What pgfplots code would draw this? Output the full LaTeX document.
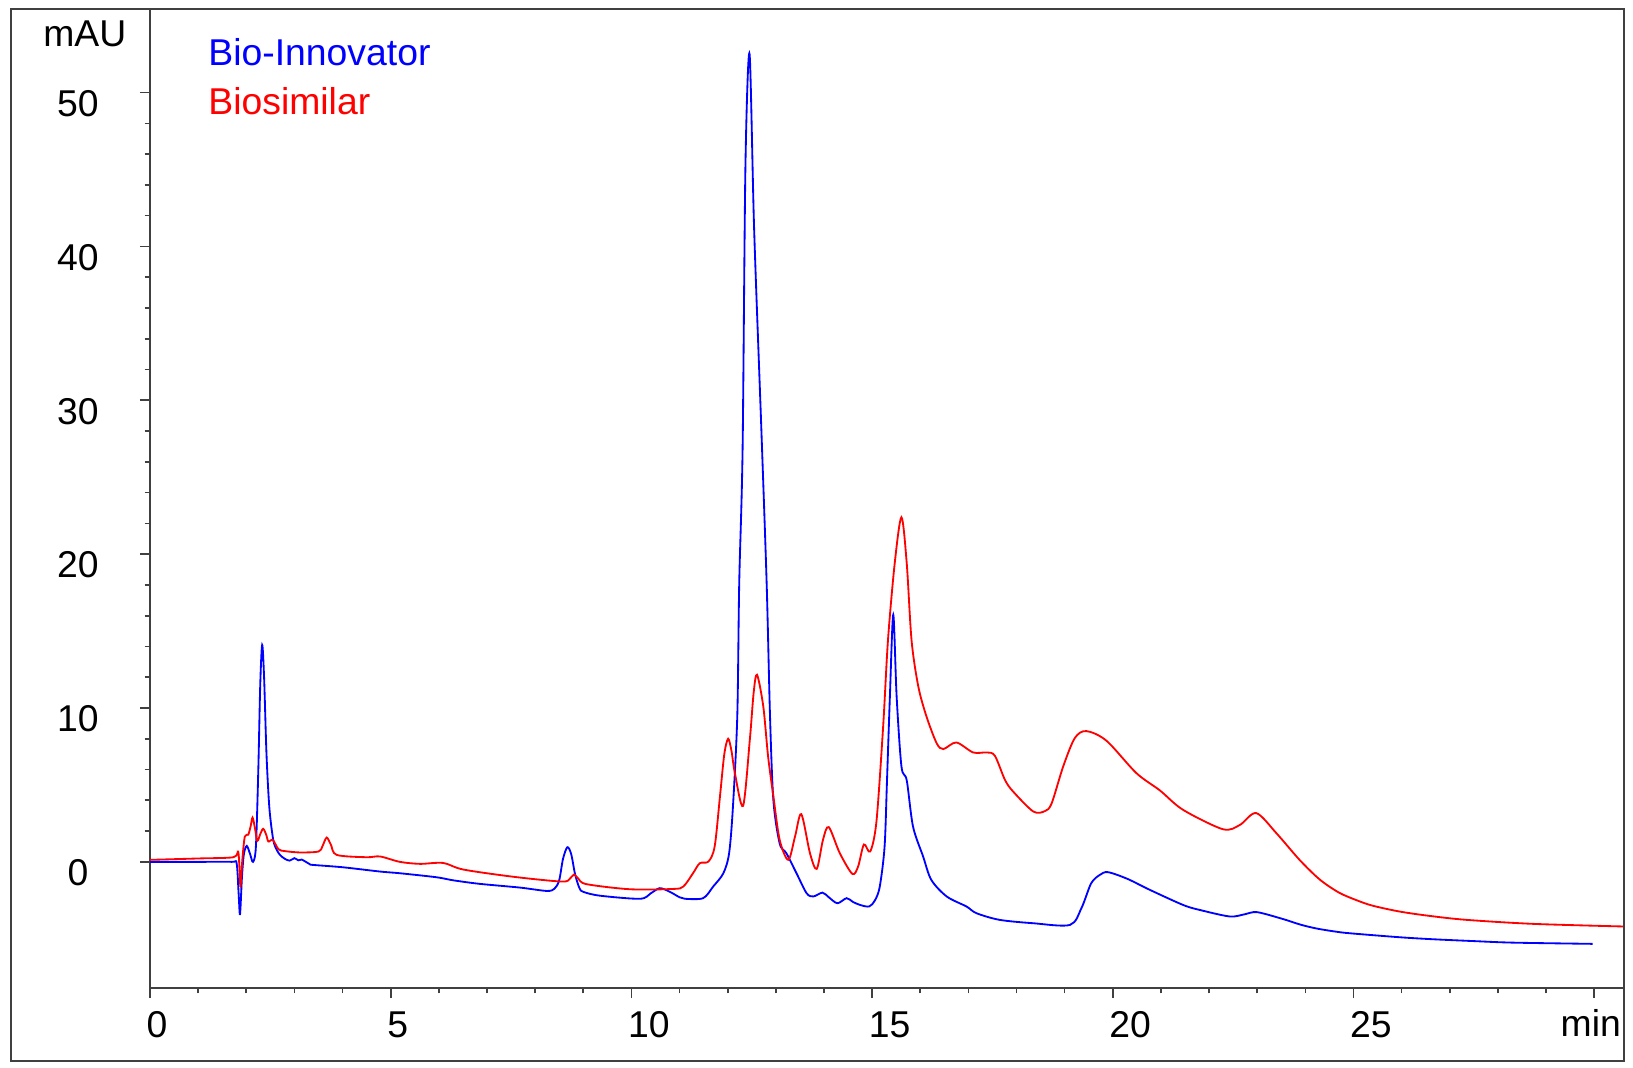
\documentclass[border=0pt]{standalone}
\usepackage{fontspec}
\setmainfont{Liberation Sans}
\usepackage{pgfplots}
\pgfplotsset{compat=1.18}

\pgfplotstableread{
t v
0 0
1.0 0.0
1.70 0.0
1.80 -0.1
1.84 -2.0
1.87 -3.4
1.91 -1.0
1.95 0.5
2.01 1.04
2.08 0.5
2.14 0.0
2.20 1.0
2.25 6
2.29 11.5
2.33 14.1
2.37 12
2.42 7
2.48 3.5
2.56 1.43
2.63 0.8
2.70 0.45
2.80 0.2
2.90 0.08
3.00 0.24
3.08 0.1
3.15 0.15
3.32 -0.15
3.39 -0.2
4.0 -0.35
4.78 -0.63
5.19 -0.74
5.95 -1.0
6.3 -1.2
6.85 -1.43
7.68 -1.67
8.24 -1.89
8.40 -1.75
8.50 -1.2
8.58 0.2
8.67 0.95
8.75 0.5
8.83 -0.8
8.92 -1.7
9.00 -1.95
9.35 -2.2
10.18 -2.4
10.40 -2.05
10.59 -1.71
10.80 -1.95
11.00 -2.3
11.11 -2.4
11.49 -2.36
11.70 -1.6
11.91 -0.74
12.03 0.56
12.11 3.6
12.20 9.5
12.24 18.1
12.31 26.8
12.37 45.4
12.455 52.5
12.55 41.1
12.70 28.1
12.81 18.1
12.88 9.45
12.95 4.0
13.08 1.2
13.22 0.56
13.43 -0.74
13.64 -2.04
13.78 -2.25
13.97 -2.0
14.10 -2.3
14.28 -2.69
14.47 -2.36
14.60 -2.6
14.75 -2.8
14.94 -2.9
15.06 -2.5
15.16 -1.6
15.26 1.0
15.31 5.3
15.37 10.75
15.44 16.06
15.51 10.75
15.61 6.2
15.72 5.3
15.85 2.3
16.06 0.35
16.23 -1.17
16.55 -2.25
16.96 -2.9
17.17 -3.34
17.65 -3.77
18.35 -3.99
19.11 -4.1
19.35 -3.0
19.55 -1.4
19.73 -0.85
19.90 -0.67
20.30 -1.1
20.77 -1.82
21.46 -2.8
21.80 -3.12
22.43 -3.55
22.75 -3.4
23.00 -3.27
23.54 -3.72
23.90 -4.08
24.23 -4.33
24.60 -4.52
24.92 -4.64
25.96 -4.9
26.65 -5.03
27.50 -5.15
28.31 -5.25
29.97 -5.33
}\blue

\pgfplotstableread{
t v
0 0.13
1.0 0.22
1.73 0.3
1.83 0.67
1.86 -0.5
1.88 -1.6
1.92 0.2
1.97 1.65
2.04 1.76
2.09 2.3
2.13 2.88
2.18 2.2
2.23 1.37
2.29 1.8
2.35 2.15
2.41 1.8
2.46 1.32
2.55 1.43
2.67 0.82
2.80 0.7
3.12 0.61
3.50 0.67
3.58 1.0
3.67 1.58
3.76 1.1
3.88 0.45
4.50 0.3
4.78 0.35
5.19 0.0
5.61 -0.13
6.09 -0.07
6.51 -0.5
7.55 -0.97
8.55 -1.28
8.72 -1.1
8.81 -0.82
8.90 -1.1
9.07 -1.45
9.97 -1.78
10.87 -1.76
11.08 -1.6
11.28 -0.74
11.42 -0.09
11.60 0.02
11.73 1.0
11.84 4.25
11.93 7.0
12.01 8.0
12.08 7.2
12.15 5.77
12.32 3.64
12.46 7.93
12.54 11
12.61 12.16
12.74 10.1
12.84 6.85
12.95 4.25
13.08 1.43
13.26 0.13
13.40 1.65
13.53 3.1
13.71 0.56
13.85 -0.46
13.98 1.43
14.10 2.26
14.33 0.56
14.59 -0.78
14.71 -0.3
14.83 1.13
14.96 0.67
15.09 2.6
15.23 8.8
15.33 14.4
15.47 19.4
15.61 22.4
15.72 19.4
15.82 14.4
15.96 11.4
16.13 9.45
16.34 7.72
16.48 7.33
16.75 7.76
17.10 7.11
17.38 7.11
17.55 6.9
17.76 5.33
17.93 4.57
18.35 3.27
18.59 3.3
18.73 3.8
18.97 6.2
19.21 8.04
19.45 8.5
19.87 7.87
20.49 5.77
20.98 4.64
21.46 3.38
22.29 2.12
22.64 2.4
22.98 3.17
23.40 1.86
23.88 0.13
24.30 -1.15
24.70 -2.0
25.07 -2.5
25.40 -2.85
25.96 -3.23
26.60 -3.52
27.35 -3.77
28.73 -4.03
30.60 -4.2
}\red

\begin{document}
\fontsize{11.2}{13}\selectfont
\begin{tikzpicture}
\begin{axis}[
  scale only axis, width=442.2pt, height=293.55pt,
  xmin=0, xmax=30.62, ymin=-8.2, ymax=55.4,
  axis line style={black!75, line width=0.6pt},
  tick align=outside, tick pos=left,
  xtick={0,5,...,30}, xticklabels={0,5,10,15,20,25,},
  minor x tick num=4,
  ytick={0,10,...,50}, minor y tick num=4,
  major tick length=3pt, minor tick length=1.6pt,
  tick style={black!75, line width=0.5pt},
  xticklabel style={anchor=west, inner sep=0pt, xshift=-1.2pt, yshift=-8.1pt},
  yticklabel style={anchor=center, xshift=-18.6pt, yshift=-3.3pt},
  clip=false,
  /pgf/number format/assume math mode=true,
  font=\fontsize{11.2}{13}\selectfont,
]
\addplot[blue, line width=0.55pt, smooth, tension=0.5] table[x=t, y=v] {\blue};
\addplot[red, line width=0.55pt, smooth, tension=0.5] table[x=t, y=v] {\red};
\node[anchor=base west, inner sep=0pt, text=blue] at (axis cs:1.2,51.76) {Bio-Innovator};
\node[anchor=base west, inner sep=0pt, text=red] at (axis cs:1.2,48.57) {Biosimilar};
\node[anchor=base east, inner sep=0pt, xshift=-6.9pt] at (axis cs:0,53.0) {mAU};
\node[anchor=base, inner sep=0pt, yshift=-14.6pt] at (axis cs:29.93,-8.2) {min};
\end{axis}
\draw[black!75, line width=0.6pt] ([shift={(-41.7pt,-21.9pt)}]current axis.south west) rectangle (current axis.north east);
\pgfresetboundingbox
\path[use as bounding box] ([shift={(-45pt,-23.7pt)}]current axis.south west) rectangle ([shift={(2.7pt,2.85pt)}]current axis.north east);
\end{tikzpicture}
\end{document}
